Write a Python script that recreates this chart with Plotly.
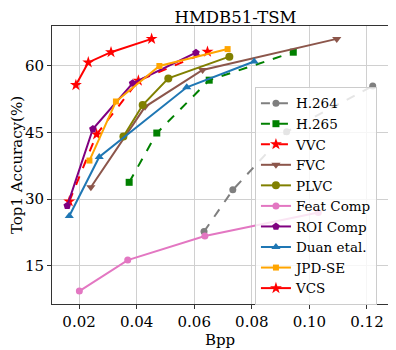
import plotly.graph_objects as go

# Bpp / Top1 accuracy
h264_x = [0.0634, 0.0734, 0.0921, 0.1220]
h264_y = [22.7, 32.1, 45.2, 55.5]
h265_x = [0.0374, 0.0470, 0.0652, 0.0944]
h265_y = [33.8, 44.9, 56.8, 63.1]
vvc_x = [0.0166, 0.0261, 0.0406, 0.0646]
vvc_y = [29.5, 44.6, 56.7, 63.2]
fvc_x = [0.0241, 0.0429, 0.0629, 0.1095]
fvc_y = [32.7, 50.8, 59.1, 66.1]
plvc_x = [0.0354, 0.0421, 0.0510, 0.0722]
plvc_y = [44.1, 51.2, 57.2, 62.1]
feat_x = [0.0201, 0.0369, 0.0637, 0.1031]
feat_y = [9.3, 16.3, 21.7, 27.0]
roi_x = [0.0159, 0.0248, 0.0386, 0.0606]
roi_y = [28.5, 45.8, 56.1, 63.0]
duan_x = [0.0166, 0.0270, 0.0574, 0.0808]
duan_y = [26.2, 39.5, 55.2, 61.0]
jpd_x = [0.0236, 0.0328, 0.0479, 0.0716]
jpd_y = [38.7, 52.0, 60.0, 63.8]
vcs_x = [0.0189, 0.0232, 0.0311, 0.0452]
vcs_y = [55.7, 60.8, 63.1, 66.1]

series = [
    ("H.264", h264_x, h264_y, "#7f7f7f", "dash", "circle", 7),
    ("H.265", h265_x, h265_y, "green", "dash", "square", 7),
    ("VVC", vvc_x, vvc_y, "red", "dash", "star", 9),
    ("FVC", fvc_x, fvc_y, "#8c564b", "solid", "triangle-down", 8),
    ("PLVC", plvc_x, plvc_y, "#808000", "solid", "circle", 8),
    ("Feat Comp", feat_x, feat_y, "#e377c2", "solid", "circle", 7),
    ("ROI Comp", roi_x, roi_y, "purple", "solid", "pentagon", 8),
    ("Duan etal.", duan_x, duan_y, "#1f77b4", "solid", "triangle-up", 8),
    ("JPD-SE", jpd_x, jpd_y, "orange", "solid", "square", 6),
    ("VCS", vcs_x, vcs_y, "red", "solid", "star", 9),
]

fig = go.Figure()
for name, xs, ys, color, dash, symbol, size in series:
    fig.add_trace(
        go.Scatter(
            x=xs, y=ys, name=name, mode="lines+markers",
            line=dict(color=color, dash=dash, width=2),
            marker=dict(symbol=symbol, size=size, color=color),
        )
    )

axis_style = dict(
    showline=True, linecolor="#333333", linewidth=1, mirror=True,
    showgrid=True, gridcolor="#d0d0d0", gridwidth=1,
    ticks="outside", ticklen=4, tickcolor="#333333",
    zeroline=False, automargin=False,
    tickfont=dict(family="DejaVu Serif", size=15, color="black"),
)

# the page body adds an 8px margin, so the figure is 8px smaller each way
fig.update_layout(
    width=388, height=342,
    margin=dict(l=44, r=8, t=18, b=46),
    paper_bgcolor="white", plot_bgcolor="white",
    font=dict(family="DejaVu Serif", color="black"),
    title=dict(text="HMDB51-TSM", x=0.546, xref="paper", xanchor="center",
               y=0.991, yanchor="top", pad=dict(t=0, b=0),
               font=dict(size=16.5)),
    showlegend=True,
    legend=dict(
        x=0.604, y=0.781, xanchor="left", yanchor="top",
        bgcolor="rgba(255,255,255,0.8)", bordercolor="#cccccc", borderwidth=1,
        font=dict(family="DejaVu Serif", size=13.5), tracegroupgap=0, itemwidth=30,
    ),
)
fig.update_xaxes(
    range=[0.0106, 0.1273], tickvals=[0.02, 0.04, 0.06, 0.08, 0.10, 0.12],
    ticktext=["0.02", "0.04", "0.06", "0.08", "0.10", "0.12"],
    title=dict(text="Bpp", font=dict(size=15), standoff=2), **axis_style,
)
fig.update_yaxes(
    range=[6.4, 69], tickvals=[15, 30, 45, 60],
    title=dict(text="Top1 Accuracy(%)", font=dict(size=15), standoff=2), **axis_style,
)

fig.write_html("out.html")
